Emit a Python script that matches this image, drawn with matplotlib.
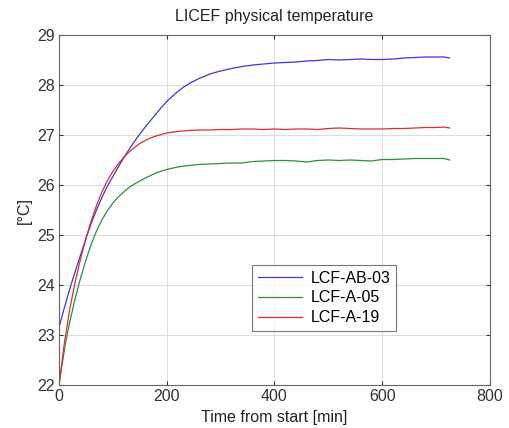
import matplotlib
matplotlib.use("Agg")
import matplotlib.pyplot as plt

plt.rcParams['font.family'] = ['Liberation Sans', 'DejaVu Sans']

# time [min]
t_ab03 = [0, 10, 20, 30, 40, 50, 60, 70, 80, 90, 100, 110, 120, 130, 140, 150, 160, 170,
          180, 190, 200, 215, 230, 245, 260, 280, 300, 320, 340, 360, 380, 400, 420, 440,
          460, 480, 500, 520, 540, 560, 580, 600, 620, 640, 660, 680, 700, 715, 725]
v_ab03 = [23.15, 23.55, 23.92, 24.27, 24.60, 24.93, 25.24, 25.51, 25.76, 25.98, 26.17,
          26.36, 26.54, 26.71, 26.87, 27.02, 27.16, 27.29, 27.42, 27.55, 27.67, 27.82,
          27.95, 28.05, 28.13, 28.22, 28.28, 28.33, 28.37, 28.40, 28.42, 28.44, 28.45,
          28.46, 28.48, 28.49, 28.51, 28.50, 28.51, 28.52, 28.51, 28.51, 28.52, 28.54,
          28.55, 28.56, 28.56, 28.56, 28.54]

t_a05 = [0, 5, 10, 15, 20, 30, 40, 50, 60, 70, 80, 90, 100, 110, 120, 130, 140, 150, 160,
         170, 180, 190, 200, 220, 240, 260, 280, 300, 320, 340, 360, 380, 400, 420, 440,
         460, 480, 500, 520, 540, 560, 580, 600, 620, 640, 660, 680, 700, 715, 725]
v_a05 = [22.00, 22.36, 22.70, 23.00, 23.26, 23.73, 24.14, 24.50, 24.82, 25.09, 25.31,
         25.49, 25.64, 25.76, 25.86, 25.95, 26.02, 26.08, 26.14, 26.19, 26.24, 26.28,
         26.31, 26.36, 26.39, 26.41, 26.42, 26.43, 26.44, 26.44, 26.47, 26.48, 26.49,
         26.49, 26.48, 26.46, 26.49, 26.50, 26.49, 26.50, 26.49, 26.48, 26.51, 26.51,
         26.52, 26.53, 26.53, 26.53, 26.53, 26.50]

t_a19 = [0, 5, 10, 20, 30, 40, 50, 60, 70, 80, 90, 100, 110, 120, 130, 140, 150, 160, 170,
         180, 190, 200, 220, 240, 260, 280, 300, 320, 340, 360, 380, 400, 420, 440, 460,
         480, 500, 520, 540, 560, 580, 600, 620, 640, 660, 680, 700, 715, 725]
v_a19 = [22.00, 22.42, 22.84, 23.52, 24.06, 24.52, 24.93, 25.29, 25.60, 25.87, 26.09,
         26.27, 26.42, 26.55, 26.66, 26.75, 26.83, 26.89, 26.94, 26.98, 27.01, 27.04,
         27.07, 27.09, 27.10, 27.10, 27.11, 27.11, 27.12, 27.12, 27.11, 27.12, 27.11,
         27.12, 27.12, 27.11, 27.13, 27.14, 27.13, 27.12, 27.12, 27.12, 27.13, 27.13,
         27.14, 27.15, 27.15, 27.16, 27.14]

labels = ['LCF-AB-03', 'LCF-A-05', 'LCF-A-19']
colors = ['#3a3ad8', '#2e8e3a', '#dc2a3a']

xticks = [0, 200, 400, 600, 800]
yticks = [22, 23, 24, 25, 26, 27, 28, 29]

fig = plt.figure(figsize=(5.10, 4.28), dpi=100)
ax = fig.add_axes([59/510, 1-385/428, 431/510, 350/428])

for t, v, lab, c in zip([t_ab03, t_a05, t_a19], [v_ab03, v_a05, v_a19], labels, colors):
    ax.plot(t, v, color=c, lw=0.9, label=lab)

ax.set_xlim(0, 800)
ax.set_ylim(22, 29)
ax.set_xticks(xticks)
ax.set_yticks(yticks)
ax.grid(True, color='#dcdcdc', lw=0.7)
ax.set_axisbelow(True)
ax.tick_params(direction='in', top=True, right=True, labelsize=11.5, colors='#333333',
               length=3, pad=3)
for s in ax.spines.values():
    s.set_color('#666666')
    s.set_linewidth(0.8)

ax.set_title('LICEF physical temperature', fontsize=11.5, pad=10, color='#222222')
ax.set_xlabel('Time from start [min]', fontsize=11.5, labelpad=4, color='#222222')
ax.set_ylabel('[°C]', fontsize=11.5, labelpad=4, color='#222222')

leg = ax.legend(loc='upper left', bbox_to_anchor=((252-59)/431, (385-265)/350),
                fontsize=11.5, frameon=True, fancybox=False, borderpad=0.35,
                labelspacing=0.3, handlelength=2.8, handletextpad=0.5,
                borderaxespad=0)
leg.get_frame().set_edgecolor('#555555')
leg.get_frame().set_linewidth(0.8)

fig.savefig('out.png', dpi=100)
